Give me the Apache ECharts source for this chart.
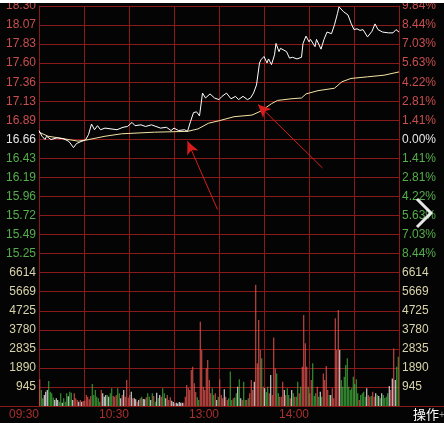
<!DOCTYPE html>
<html>
<head>
<meta charset="utf-8">
<script src="https://cdn.jsdelivr.net/npm/echarts@6/dist/echarts.min.js"></script>
<style>
  html, body { margin: 0; padding: 0; background: #ffffff; }
  #chart { width: 444px; height: 423px; }
</style>
</head>
<body>
<div id="chart"></div>
<script>
// price labels (bottom -> top of the frame, one per grid row)
var leftLabels = ['', '945', '1890', '2835', '3780', '4725', '5669', '6614',
  '15.25', '15.49', '15.72', '15.96', '16.19', '16.43', '16.66',
  '16.89', '17.13', '17.36', '17.60', '17.83', '18.07', '18.30']
var rightLabels = ['', '945', '1890', '2835', '3780', '4725', '5669', '6614',
  '8.44%', '7.03%', '5.63%', '4.22%', '2.81%', '1.41%', '0.00%',
  '1.41%', '2.81%', '4.22%', '5.63%', '7.03%', '8.44%', '9.84%']
var timeTicks = [0, 60, 120, 180]
var timeLabels = ['09:30', '10:30', '13:00', '14:00']

var priceMin = 15.02
var priceMax = 18.30
var volMax = 6614

// minute line (minutes since open, price)
var lineMinutes = [0, 2, 4, 5, 8, 12, 16, 18, 20, 23, 25, 28, 31, 33, 35, 37, 39, 41, 44, 48,
  52, 56, 59, 62, 64, 68, 71, 75, 78, 81, 85, 88, 90, 93, 97, 99, 101, 103, 105, 107,
  109, 111, 114, 117, 120, 122, 125, 128, 131, 133, 136, 139, 141, 143, 145, 147, 148, 150, 152, 153,
  155, 157, 158, 160, 161, 165, 167, 169, 172, 175, 176, 178, 180, 181, 184, 185, 188, 190, 192, 195,
  197, 199, 200, 203, 206, 208, 210, 212, 214, 216, 219, 222, 224, 226, 229, 233, 236, 238, 240]
var linePrices = [16.77, 16.70, 16.66, 16.70, 16.66, 16.68, 16.67, 16.655, 16.635, 16.56, 16.61, 16.635, 16.655, 16.72, 16.85, 16.78, 16.83, 16.78, 16.80, 16.79,
  16.78, 16.81, 16.82, 16.87, 16.83, 16.84, 16.82, 16.84, 16.82, 16.80, 16.81, 16.77, 16.80, 16.77, 16.78, 16.76, 16.88, 16.99, 17.00, 16.95,
  17.23, 17.17, 17.22, 17.17, 17.15, 17.19, 17.23, 17.16, 17.19, 17.15, 17.19, 17.15, 17.17, 17.23, 17.33, 17.60, 17.64, 17.68, 17.60, 17.65,
  17.58, 17.70, 17.84, 17.74, 17.78, 17.74, 17.66, 17.67, 17.65, 17.67, 17.84, 17.93, 17.86, 17.89, 17.80, 17.89, 17.77, 17.89, 17.98, 17.96,
  18.07, 18.21, 18.29, 18.23, 18.19, 18.09, 18.01, 18.02, 18.00, 18.01, 17.92, 17.99, 18.08, 18.01, 17.98, 17.97, 17.97, 18.01, 17.98]

// average price line
var avgMinutes = [0, 6, 13, 26, 32, 44, 55, 66, 77, 88, 99, 106, 113, 120, 130, 142, 148, 155, 159, 168,
  175, 178, 186, 197, 202, 208, 219, 230, 240]
var avgPrices = [16.75, 16.70, 16.68, 16.64, 16.655, 16.70, 16.73, 16.74, 16.75, 16.755, 16.76, 16.79, 16.86, 16.89, 16.94, 16.96, 17.01, 17.10, 17.14, 17.16,
  17.17, 17.22, 17.26, 17.29, 17.37, 17.41, 17.43, 17.45, 17.49]

// per-minute volume, morning and afternoon
var volAm = [1330, 800, 380, 550, 710, 800, 1240, 710, 630, 420,
  300, 380, 300, 215, 630, 165, 380, 215, 630, 480,
  710, 660, 300, 630, 380, 300, 215, 300, 215, 250,
  265, 550, 460, 330, 500, 1090, 550, 800, 460, 380,
  215, 800, 630, 460, 550, 550, 460, 630, 880, 500,
  460, 550, 880, 630, 380, 550, 800, 460, 1290, 420,
  550, 710, 380, 380, 330, 215, 300, 380, 460, 350,
  330, 430, 630, 460, 300, 630, 500, 215, 660, 400,
  550, 460, 880, 630, 380, 550, 300, 430, 265, 200,
  130, 165, 130, 200, 165, 165, 165, 460, 1040, 900,
  800, 1790, 1950, 1130, 700, 430, 300, 4190, 2780, 960,
  800, 1870, 2290, 1290, 630, 880, 550, 630, 300, 460]
var volPm = [1330, 550, 380, 830, 460, 300, 380, 1710, 300, 380,
  420, 630, 960, 1330, 380, 300, 1210, 300, 300, 380,
  630, 1290, 800, 1210, 6030, 2120, 4280, 2780, 2370, 960,
  880, 700, 960, 630, 1540, 550, 3410, 1870, 1620, 630,
  460, 460, 1210, 800, 550, 880, 550, 380, 800, 630,
  460, 460, 1210, 630, 960, 1950, 4520, 3120, 1950, 960,
  630, 1290, 2120, 500, 630, 960, 460, 710, 460, 1620,
  1290, 1990, 800, 550, 550, 880, 380, 4360, 2780, 4770,
  2780, 1290, 960, 1460, 2040, 2370, 960, 800, 880, 1460,
  1100, 1330, 630, 300, 550, 630, 710, 460, 880, 550,
  460, 500, 710, 460, 630, 550, 500, 380, 630, 550,
  400, 460, 630, 990, 800, 1370, 2860, 1290, 1950, 2450]
// r = up, g = down, w = flat
var dirAm = 'rggwwwggg' + 'g' + 'wwwggwggg' + 'w' + 'ggwrrrwrw' + 'r' + 'rrrrrgggg' + 'g' +
  'grwwwgwgg' + 'r' + 'rrggwrwrr' + 'r' + 'rwrwwrwrg' + 'w' + 'wrggwgrgw' + 'g' +
  'wrggwrrrw' + 'w' + 'rwwwwwrrr' + 'r' + 'rrrr' + 'r' + 'ggrrrrrrrrggrw' + 'g'
var dirPm = 'rrrwrrgggr' + 'g' + 'gwgwrggrgrrrwrrrrgrw' + 'g' + 'grwrrrggrrrwrgg' + 'r' +
  'wgrggrgrrrrgrrg' + 'g' + 'grgwgrrr' + 'r' + 'gwrrrrrwggggggggg' + 'g' +
  'ggrggggwrr' + 'g' + 'rrwgwgwg' + 'g' + 'ggwrwrwgg'

var upColor = '#e0524e'
var downColor = '#3eaa3a'
var flatColor = '#f0f0f0'
var gridColor = '#8a1a1a'

function drawChart () {
  var chart = echarts.init(document.getElementById('chart'))

  var vols = volAm.concat(volPm)
  var dirs = (dirAm + dirPm).split('')
  var cats = []
  var volData = []
  for (var i = 0; i < vols.length; i++) {
    cats.push(i)
    var d = dirs[i]
    volData.push({
      value: vols[i],
      itemStyle: { color: d === 'r' ? upColor : (d === 'g' ? downColor : flatColor) }
    })
  }
  var lineData = lineMinutes.map(function (m, i) { return [m, linePrices[i]] })
  var avgData = avgMinutes.map(function (m, i) { return [m, avgPrices[i]] })

  var labelRich = {
    up: { color: '#c94e4e', fontSize: 12, fontFamily: 'Liberation Sans' },
    zero: { color: '#e6e6e6', fontSize: 12, fontFamily: 'Liberation Sans' },
    down: { color: '#55ad4c', fontSize: 12, fontFamily: 'Liberation Sans' },
    vol: { color: '#d8d3aa', fontSize: 12, fontFamily: 'Liberation Sans' }
  }
  var richFor = function (labels) {
    return function (value) {
      var idx = Math.round(value)
      var txt = labels[idx]
      if (!txt) return ''
      if (idx <= 7) return '{vol|' + txt + '}'
      if (idx < 14) return '{down|' + txt + '}'
      if (idx === 14) return '{zero|' + txt + '}'
      return '{up|' + txt + '}'
    }
  }

  var option = {
    animation: false,
    backgroundColor: '#040404',
    grid: [
      { left: 39, top: 6, width: 360, height: 400 },
      { left: 39, top: 6, width: 360, height: 267 },
      { left: 39, top: 273, width: 360, height: 133 }
    ],
    xAxis: [
      {
        gridIndex: 0,
        type: 'value',
        min: 0,
        max: 240,
        interval: 30,
        axisLine: { show: true, lineStyle: { color: gridColor } },
        axisTick: { show: false },
        splitLine: { show: true, lineStyle: { color: gridColor, width: 1 } },
        axisLabel: {
          show: true,
          showMinLabel: true,
          align: 'right',
          margin: 3,
          color: '#a8302e',
          fontSize: 12,
          fontFamily: 'Liberation Sans',
          formatter: function (value) {
            var k = timeTicks.indexOf(value)
            return k >= 0 ? timeLabels[k] : ''
          }
        }
      },
      { gridIndex: 1, type: 'value', min: 0, max: 240, show: false },
      { gridIndex: 2, type: 'category', data: cats, boundaryGap: true, show: false }
    ],
    yAxis: [
      {
        gridIndex: 0,
        type: 'value',
        min: 0,
        max: 21,
        interval: 1,
        position: 'left',
        axisLine: { show: true, lineStyle: { color: gridColor } },
        axisTick: { show: false },
        splitLine: { show: true, lineStyle: { color: gridColor, width: 1 } },
        axisLabel: { margin: 3, showMaxLabel: true, formatter: richFor(leftLabels), rich: labelRich }
      },
      {
        gridIndex: 0,
        type: 'value',
        min: 0,
        max: 21,
        interval: 1,
        position: 'right',
        axisLine: { show: true, lineStyle: { color: gridColor } },
        axisTick: { show: false },
        splitLine: { show: false },
        axisLabel: { margin: 3, showMaxLabel: true, formatter: richFor(rightLabels), rich: labelRich }
      },
      { gridIndex: 1, type: 'value', min: priceMin, max: priceMax, show: false },
      { gridIndex: 2, type: 'value', min: 0, max: volMax, show: false }
    ],
    graphic: [
      // white strip at the very top of the picture
      { type: 'rect', z: 100, shape: { x: 0, y: 0, width: 444, height: 3 }, style: { fill: '#ffffff' } },
      // bottom rule runs the full width
      { type: 'line', z: 50, shape: { x1: 0, y1: 406.5, x2: 444, y2: 406.5 }, style: { stroke: gridColor, lineWidth: 1 } },
      // page arrow on the right
      { type: 'polyline', z: 60, shape: { points: [[417, 199], [431, 213], [417, 227]] }, style: { stroke: 'rgba(255,255,255,0.9)', lineWidth: 3, fill: null } },
      { type: 'text', z: 60, left: 413, top: 408, style: { text: '操作', fill: '#ffffff', font: '13px "Noto Sans CJK SC"' } },
      { type: 'text', z: 60, left: 439, top: 410, style: { text: '+', fill: '#9a9a9a', font: '10px "Liberation Sans"' } }
    ],
    series: [
      {
        name: 'avg',
        type: 'line',
        xAxisIndex: 1,
        yAxisIndex: 2,
        data: avgData,
        showSymbol: false,
        lineStyle: { color: '#f3e3a2', width: 1 },
        z: 3
      },
      {
        name: 'price',
        type: 'line',
        xAxisIndex: 1,
        yAxisIndex: 2,
        data: lineData,
        showSymbol: false,
        lineStyle: { color: '#ffffff', width: 1 },
        z: 4,
        markLine: {
          silent: true,
          symbol: ['none', 'arrow'],
          symbolSize: [9, 13],
          label: { show: false },
          lineStyle: { color: '#d81c1c', width: 1, type: 'solid' },
          data: [
            [{ coord: [119, 15.80] }, { coord: [99, 16.64] }],
            [{ coord: [189, 16.31] }, { coord: [146, 17.09] }]
          ]
        }
      },
      {
        name: 'volume',
        type: 'bar',
        xAxisIndex: 2,
        yAxisIndex: 3,
        data: volData,
        barWidth: 1,
        z: 3
      }
    ]
  }
  chart.setOption(option, true)
}
drawChart()
</script>
</body>
</html>
